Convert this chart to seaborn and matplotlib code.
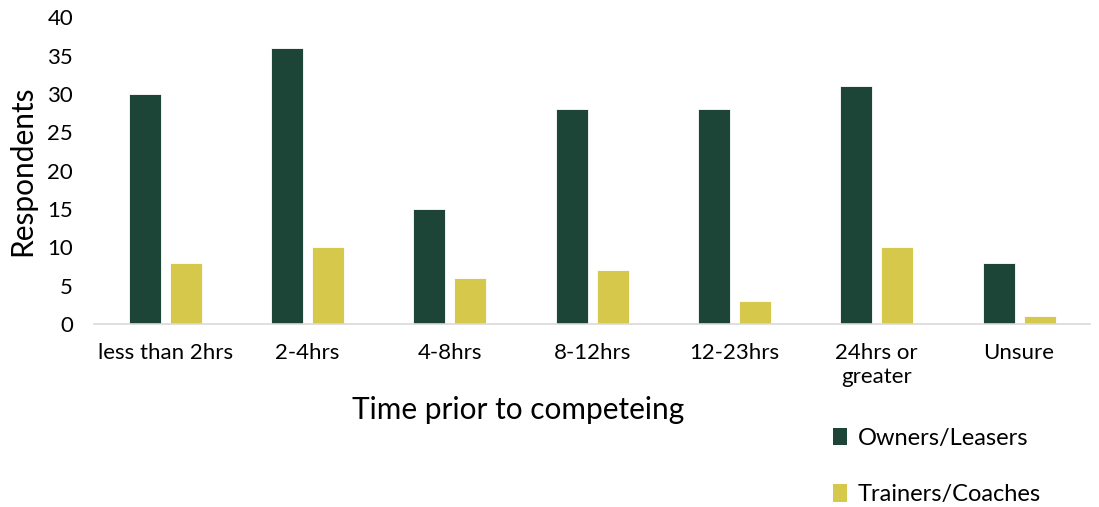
import matplotlib
matplotlib.use("Agg")
import matplotlib.pyplot as plt
import seaborn as sns
import pandas as pd
from matplotlib.patches import Patch

categories = ["less than 2hrs", "2-4hrs", "4-8hrs", "8-12hrs", "12-23hrs", "24hrs or\ngreater", "Unsure"]
owners = [30, 36, 15, 28, 28, 31, 8]
trainers = [8, 10, 6, 7, 3, 10, 1]
series_names = ["Owners/Leasers", "Trainers/Coaches"]
colors = ["#1C4538", "#D5C84B"]

df = pd.DataFrame({
    "Time": categories * 2,
    "Respondents": owners + trainers,
    "Group": [series_names[0]] * len(categories) + [series_names[1]] * len(categories),
})

sns.set_style("white")
plt.rcParams["font.family"] = ["Lato", "DejaVu Sans"]
plt.rcParams["text.color"] = "#000000"
plt.rcParams["axes.labelcolor"] = "#000000"

fig = plt.figure(figsize=(10.99, 5.07), dpi=100)
ax = fig.add_axes([0.0855, 0.361, 0.9065, 0.605])

sns.barplot(data=df, x="Time", y="Respondents", hue="Group", order=categories,
            hue_order=series_names, palette=colors, saturation=1, width=0.577, gap=0.22,
            edgecolor="white", linewidth=0.6, ax=ax, legend=False)

ax.set_ylim(0, 40)
ax.set_yticks(range(0, 41, 5))
ax.set_xlim(-0.5, len(categories) - 0.5)
for s in ["top", "right", "left"]:
    ax.spines[s].set_visible(False)
ax.spines["bottom"].set_color("#D9D9D9")
ax.spines["bottom"].set_linewidth(1.2)
ax.tick_params(axis="both", length=0, labelsize=16, colors="#000000")
ax.tick_params(axis="x", pad=14)
ax.tick_params(axis="y", pad=15)
ax.set_xlabel("Time prior to competeing", fontsize=21.5)
ax.xaxis.set_label_coords(0.426, -0.235)
ax.set_ylabel("Respondents", fontsize=21.5, labelpad=8)

handles = [Patch(facecolor=c, edgecolor="none") for c in colors]
fig.legend(handles, series_names, loc="upper left", bbox_to_anchor=(0.749, 0.175),
           frameon=False, fontsize=17, handlelength=0.6, handleheight=0.75,
           handletextpad=0.45, labelspacing=1.5, borderaxespad=0)
fig.savefig("out.png", dpi=100)
